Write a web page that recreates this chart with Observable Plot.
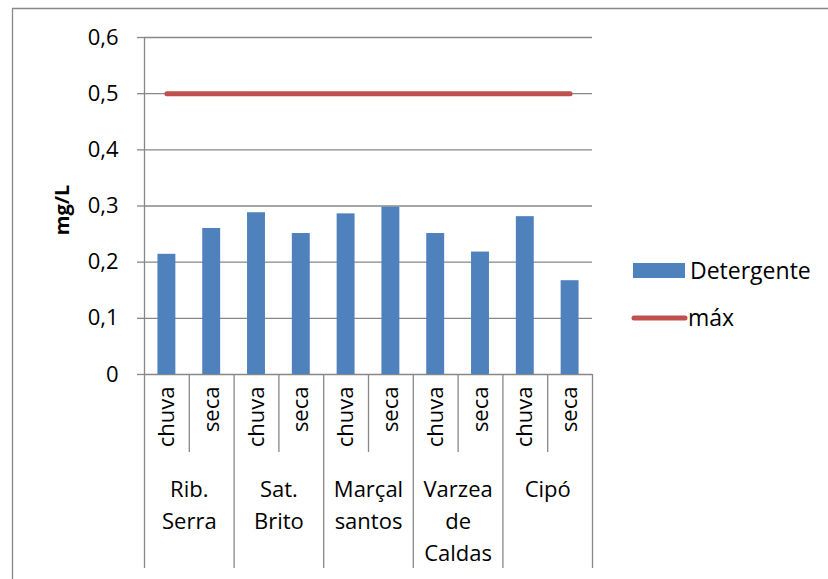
<!DOCTYPE html>
<html>
<head>
<meta charset="utf-8">
<script src="https://cdn.jsdelivr.net/npm/d3@7"></script>
<script src="https://cdn.jsdelivr.net/npm/@observablehq/plot@0.6"></script>
<style>
  html, body { margin: 0; padding: 0; background: #fff; }
</style>
</head>
<body>
<div id="chart"></div>
<script>
// Sampling sites (group labels) and seasons (sub-category labels)
const sites = ["Rib.\nSerra", "Sat.\nBrito", "Marçal\nsantos", "Varzea\nde\nCaldas", "Cipó"];
const seasons = ["chuva", "seca"];
// Detergent concentration (mg/L), one value per site × season
const detergente = [0.214, 0.260, 0.288, 0.251, 0.286, 0.298, 0.251, 0.218, 0.281, 0.167];
// Maximum allowed concentration (mg/L)
const maximo = [0.5, 0.5, 0.5, 0.5, 0.5, 0.5, 0.5, 0.5, 0.5, 0.5];
const yTicks = [0, 0.1, 0.2, 0.3, 0.4, 0.5, 0.6];

const blue = "#4F81BD";
const red = "#C0504D";
const gray = "#878787";

const rows = detergente.map((v, i) => ({
  i,
  site: sites[Math.floor(i / seasons.length)],
  season: seasons[i % seasons.length],
  value: v,
  max: maximo[i]
}));
const n = rows.length;
const centers = rows.map(d => d.i + 0.5);
const innerBounds = d3.range(1, n, 2);
const groupBounds = d3.range(0, n + 1, 2);
const groupCenters = sites.map((s, g) => g * 2 + 1);

const chart = Plot.plot({
  width: 828,
  height: 579,
  marginLeft: 144,
  marginRight: 236,
  marginTop: 37,
  marginBottom: 205,
  style: { fontFamily: "'Open Sans', sans-serif", fontSize: "22px", color: "#000", background: "#fff" },
  x: { type: "linear", domain: [0, n], axis: null },
  y: { domain: [0, 0.6], axis: null },
  marks: [
    Plot.gridY(yTicks, { stroke: gray, strokeOpacity: 1, strokeWidth: 1.3 }),
    Plot.axisY(yTicks, {
      tickSize: 7, tickPadding: 19, stroke: gray, strokeWidth: 1.3,
      tickFormat: d => d === 0 ? "0" : d3.format(".1f")(d).replace(".", ","),
      label: null
    }),
    Plot.text(["mg/L"], { frameAnchor: "left", textAnchor: "middle", dx: -82, dy: 4, rotate: -90, fontWeight: "bold", className: "ytitle" }),
    Plot.ruleX([0], { stroke: gray, strokeWidth: 1.3 }),
    Plot.rectY(rows, { x1: d => d.i + 0.3, x2: d => d.i + 0.7, y: "value", fill: blue }),
    Plot.lineY(rows, { x: d => d.i + 0.5, y: "max", stroke: red, strokeWidth: 5, strokeLinecap: "round" }),
    // category axis: separators
    Plot.axisX(innerBounds, { anchor: "bottom", tickSize: 78, tickFormat: () => "", stroke: gray, strokeWidth: 1.3, label: null }),
    Plot.axisX(groupBounds, { anchor: "bottom", tickSize: 194, tickFormat: () => "", stroke: gray, strokeWidth: 1.3, label: null }),
    // season labels
    Plot.axisX(centers, { anchor: "bottom", tickSize: 0, tickPadding: 12, tickRotate: -90, tickFormat: x => rows[Math.floor(x)].season, label: null }),
    // site labels
    Plot.axisX(groupCenters, { anchor: "bottom", tickSize: 0, tickPadding: 100, lineHeight: 1.45, tickFormat: x => sites[Math.floor(x / 2)], label: null })
  ]
});

document.getElementById("chart").appendChild(chart);

const svg = d3.select(chart);
// y-axis title size
svg.selectAll(".ytitle text").attr("font-size", 20);

// Legend and outer chart-area border
const legend = svg.append("g")
  .attr("font-family", "'Open Sans', sans-serif")
  .attr("font-size", 23)
  .attr("text-anchor", "start");
legend.append("rect").attr("x", 633).attr("y", 263).attr("width", 52).attr("height", 15).attr("fill", blue);
legend.append("text").attr("x", 690).attr("y", 270.5).attr("dy", "0.35em").text("Detergente");
legend.append("line").attr("x1", 634).attr("x2", 685).attr("y1", 318).attr("y2", 318)
  .attr("stroke", red).attr("stroke-width", 5).attr("stroke-linecap", "round");
legend.append("text").attr("x", 688).attr("y", 318).attr("dy", "0.35em").text("máx");

svg.append("path").attr("d", "M12.5,579V8.5H828").attr("fill", "none").attr("stroke", gray).attr("stroke-width", 1.3);
</script>
</body>
</html>
